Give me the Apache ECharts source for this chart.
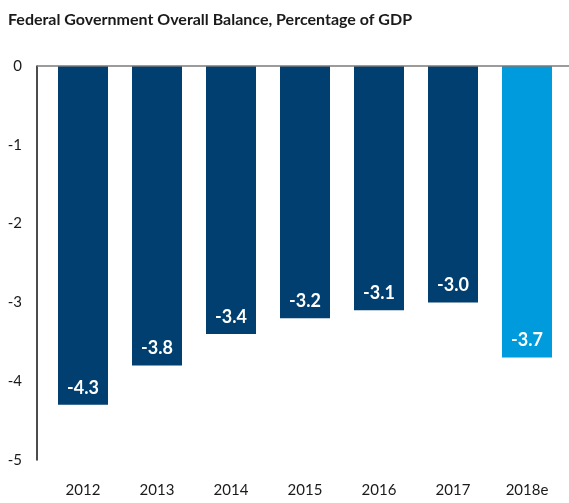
<!DOCTYPE html>
<html>
<head>
<meta charset="utf-8">
<script src="https://cdn.jsdelivr.net/npm/echarts@6/dist/echarts.min.js"></script>
<style>
  html, body { margin: 0; padding: 0; background: #fff; }
  #chart { width: 569px; height: 503px; }
</style>
</head>
<body>
<div id="chart"></div>
<script>
// Federal government overall balance, % of GDP
const years = ['2012', '2013', '2014', '2015', '2016', '2017', '2018e'];
const balance = [-4.3, -3.8, -3.4, -3.2, -3.1, -3.0, -3.7];
const estimateYears = ['2018e'];
const yTicks = [0, -1, -2, -3, -4, -5];

const NAVY = '#003F6F';
const SKY = '#009BDC';
const FONT = 'Lato, "Open Sans", sans-serif';

const chart = echarts.init(document.getElementById('chart'), null, { renderer: 'canvas' });

const option = {
  animation: false,
  backgroundColor: '#fff',
  title: {
    text: 'Federal Government Overall Balance, Percentage of GDP',
    left: 3,
    top: 7,
    textStyle: { fontFamily: FONT, fontSize: 16, fontWeight: 'bold', color: '#1a1a1a' }
  },
  grid: { left: 46, right: 5, top: 66, bottom: 43, containLabel: false },
  xAxis: {
    type: 'category',
    data: years,
    position: 'bottom',
    axisLine: { show: false },
    axisTick: { show: false },
    axisLabel: { margin: 23, fontFamily: FONT, fontSize: 15, color: '#1a1a1a' }
  },
  yAxis: {
    type: 'value',
    min: -5,
    max: 0,
    interval: 1,
    offset: 9,
    axisLine: { show: true, lineStyle: { color: '#111', width: 1.5 } },
    axisTick: { show: false },
    splitLine: { show: false },
    axisLabel: {
      margin: 15,
      fontFamily: FONT,
      fontSize: 15,
      color: '#1a1a1a',
      formatter: v => (yTicks.indexOf(v) >= 0 ? String(v) : '')
    }
  },
  series: [{
    type: 'bar',
    barWidth: 50,
    data: balance.map((v, i) => ({
      value: v,
      itemStyle: { color: estimateYears.indexOf(years[i]) >= 0 ? SKY : NAVY }
    })),
    label: {
      show: true,
      position: 'insideBottom',
      distance: 8,
      color: '#fff',
      fontFamily: FONT,
      fontSize: 18,
      fontWeight: 'bold',
      formatter: p => p.value.toFixed(1)
    }
  }]
};

chart.setOption(option);

// Zero line running from the value axis to the right edge of the canvas
const zeroY = chart.convertToPixel({ yAxisIndex: 0 }, 0);
chart.setOption({
  graphic: [{
    type: 'line',
    shape: { x1: 37, y1: zeroY, x2: 569, y2: zeroY },
    style: { stroke: '#7a7a7a', lineWidth: 1.5 },
    z: 10
  }]
});
</script>
</body>
</html>
